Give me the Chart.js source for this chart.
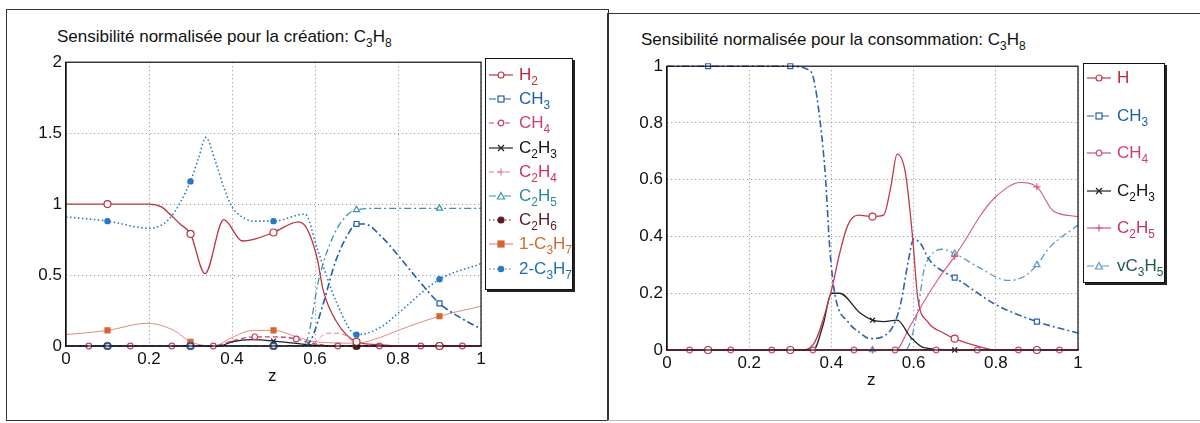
<!DOCTYPE html>
<html>
<head>
<meta charset="utf-8">
<script src="https://cdn.jsdelivr.net/npm/chart.js@4.4.0/dist/chart.umd.min.js"></script>
<style>
  body{margin:0;width:1200px;height:423px;background:#fff;position:relative;overflow:hidden;
       font-family:"Liberation Sans",Arial,sans-serif;color:#111;}
  .panel{position:absolute;box-sizing:border-box;}
  .title{position:absolute;font-size:17px;white-space:nowrap;line-height:20px;}
  sub{font-size:0.7em;vertical-align:-0.45em;line-height:0;}
  .zlab{position:absolute;font-size:17px;line-height:17px;}
  canvas{position:absolute;}
  .legend{position:absolute;box-sizing:border-box;border:1px solid #111;box-shadow:2px 2px 0 #222;background:#fff;}
  .legend .item{position:absolute;left:2px;height:22px;display:flex;align-items:center;white-space:nowrap;font-size:17px;}
  .legend svg{margin-right:5px;}
</style>
</head>
<body>

<div class="panel" style="left:6px;top:9px;width:603px;height:412px;border:1.5px solid #333;"></div>
<div class="panel" style="left:607px;top:13px;width:600px;height:408px;border-top:1.5px solid #333;border-left:1.5px solid #333;border-bottom:1px solid #bbb;"></div>

<div class="title" style="left:57px;top:27px;">Sensibilité normalisée pour la création: C<sub>3</sub>H<sub>8</sub></div>
<div class="title" style="left:641px;top:30px;">Sensibilité normalisée pour la consommation: C<sub>3</sub>H<sub>8</sub></div>

<canvas id="creation" width="490" height="346" style="left:16px;top:48px;"></canvas>
<canvas id="conso" width="490" height="346" style="left:617px;top:52px;"></canvas>

<div class="zlab" style="left:268px;top:367px;">z</div>
<div class="zlab" style="left:867px;top:371px;">z</div>

<div class="legend" id="legCreation" style="left:485px;top:58px;width:88px;height:232px;"></div>
<div class="legend" id="legConso" style="left:1083px;top:63px;width:82px;height:220px;"></div>

<script>
/* ===== Axis ticks ===== */
const zTicks = [0, 0.2, 0.4, 0.6, 0.8, 1];
const creationTicks = [0, 0.5, 1, 1.5, 2];
const consoTicks = [0, 0.2, 0.4, 0.6, 0.8, 1];

/* marker positions along z */
const marksMain = [0.1, 0.3, 0.5, 0.7, 0.9];
const marksOffset = [0.055, 0.155, 0.255, 0.355, 0.455, 0.555, 0.655, 0.755, 0.855, 0.955];

/* ===== Création (left) ===== */
const cH2Z   = [0, 0.1, 0.2, 0.23, 0.25, 0.275, 0.3, 0.335, 0.38, 0.425, 0.45, 0.5, 0.56, 0.58, 0.605, 0.62, 0.65, 0.7, 0.75, 0.8, 0.9, 1];
const cH2V   = [1, 1, 1, 0.98, 0.93, 0.86, 0.79, 0.51, 0.89, 0.74, 0.75, 0.80, 0.875, 0.83, 0.62, 0.39, 0.18, 0.03, 0.01, 0, 0, 0];

const cCH3Z  = [0, 0.1, 0.3, 0.5, 0.57, 0.59, 0.62, 0.65, 0.68, 0.7, 0.72, 0.757, 0.8, 0.836, 0.9, 0.95, 1];
const cCH3V  = [0, 0, 0, 0, 0, 0.04, 0.3, 0.6, 0.79, 0.86, 0.86, 0.78, 0.64, 0.51, 0.30, 0.2, 0.12];

const cCH4Z  = [0, 0.055, 0.155, 0.255, 0.355, 0.4, 0.455, 0.5, 0.555, 0.6, 0.655, 0.755, 0.855, 0.955, 1];
const cCH4V  = [0, 0, 0, 0, 0, 0.035, 0.065, 0.065, 0.05, 0.015, 0, 0, 0, 0, 0];

const cC2H3Z = [0, 0.1, 0.3, 0.37, 0.4, 0.45, 0.5, 0.55, 0.6, 0.65, 0.7, 0.9, 1];
const cC2H3V = [0, 0, 0, 0, 0.03, 0.045, 0.035, 0.02, 0.006, 0, 0, 0, 0];

const cC2H4Z = [0, 0.1, 0.3, 0.5, 0.58, 0.6, 0.63, 0.66, 0.7, 0.9, 1];
const cC2H4V = [0, 0, 0, 0, 0, 0.03, 0.09, 0.09, 0.02, 0, 0];

const cC2H5Z = [0, 0.1, 0.3, 0.5, 0.56, 0.58, 0.61, 0.645, 0.68, 0.7, 0.75, 0.8, 0.9, 1];
const cC2H5V = [0, 0, 0, 0, 0, 0.04, 0.48, 0.78, 0.93, 0.96, 0.97, 0.97, 0.97, 0.97];

const cC2H6Z = [0, 0.1, 0.3, 0.5, 0.7, 0.9, 1];
const cC2H6V = [0, 0, 0, 0, 0, 0, 0];

const c1C3H7Z = [0, 0.1, 0.195, 0.26, 0.3, 0.355, 0.4, 0.45, 0.5, 0.556, 0.6, 0.7, 0.757, 0.8, 0.9, 1];
const c1C3H7V = [0.08, 0.11, 0.16, 0.11, 0.03, 0, 0.06, 0.11, 0.11, 0.065, 0.03, 0.02, 0.06, 0.11, 0.21, 0.28];

const c2C3H7Z = [0, 0.1, 0.2, 0.25, 0.3, 0.32, 0.337, 0.36, 0.38, 0.4, 0.43, 0.45, 0.5, 0.576, 0.605, 0.653, 0.7, 0.757, 0.8, 0.9, 1];
const c2C3H7V = [0.91, 0.88, 0.83, 0.9, 1.16, 1.33, 1.47, 1.3, 1.12, 0.98, 0.9, 0.88, 0.88, 0.93, 0.69, 0.30, 0.08, 0.13, 0.23, 0.47, 0.58];

/* ===== Consommation (right) ===== */
const kHZ    = [0, 0.1, 0.3, 0.325, 0.356, 0.4, 0.42, 0.44, 0.465, 0.5, 0.527, 0.544, 0.56, 0.58, 0.598, 0.61, 0.634, 0.673, 0.7, 0.76, 0.8, 0.9, 1];
const kHV    = [0, 0, 0, 0, 0.02, 0.21, 0.34, 0.44, 0.475, 0.47, 0.475, 0.57, 0.69, 0.625, 0.39, 0.185, 0.10, 0.06, 0.04, 0.012, 0, 0, 0];

const kCH3Z  = [0, 0.1, 0.3, 0.34, 0.356, 0.373, 0.385, 0.397, 0.41, 0.44, 0.47, 0.495, 0.544, 0.568, 0.588, 0.6, 0.617, 0.637, 0.68, 0.7, 0.8, 0.9, 1];
const kCH3V  = [1, 1, 1, 0.99, 0.96, 0.80, 0.62, 0.34, 0.185, 0.10, 0.06, 0.04, 0.07, 0.16, 0.32, 0.39, 0.375, 0.32, 0.27, 0.255, 0.16, 0.10, 0.06];

const kCH4Z  = [0, 0.055, 0.155, 0.255, 0.355, 0.455, 0.555, 0.655, 0.755, 0.855, 0.955, 1];
const kCH4V  = [0, 0, 0, 0, 0, 0, 0, 0, 0, 0, 0, 0];

const kC2H3Z = [0, 0.1, 0.3, 0.356, 0.38, 0.4, 0.42, 0.47, 0.5, 0.527, 0.56, 0.593, 0.625, 0.7, 0.9, 1];
const kC2H3V = [0, 0, 0, 0, 0.09, 0.20, 0.20, 0.13, 0.105, 0.10, 0.105, 0.045, 0.008, 0, 0, 0];

const kC2H5Z = [0, 0.1, 0.3, 0.5, 0.556, 0.59, 0.625, 0.66, 0.7, 0.727, 0.763, 0.8, 0.86, 0.9, 0.94, 1];
const kC2H5V = [0, 0, 0, 0, 0, 0.08, 0.17, 0.25, 0.33, 0.39, 0.475, 0.54, 0.59, 0.575, 0.49, 0.47];

const kVC3H5Z = [0, 0.1, 0.3, 0.5, 0.58, 0.61, 0.625, 0.64, 0.67, 0.7, 0.76, 0.83, 0.87, 0.9, 0.93, 1];
const kVC3H5V = [0, 0, 0, 0, 0, 0.14, 0.28, 0.33, 0.355, 0.34, 0.29, 0.245, 0.26, 0.30, 0.36, 0.44];

/* ===== Styles ===== */
const DASHDOT = [7, 3, 2, 3];
const DOT = [1.5, 2.5];
const GRIDDOT = [1, 3];
const DASH = [5, 3];

const stH2    = {color:"#b8343f", marker:"circle"};
const stCH3   = {color:"#1f5ea8", marker:"rect", dash:DASHDOT, width:1.6};
const stCH4   = {color:"#c8406c", marker:"circle", dash:DASH, size:2.8};
const stC2H3  = {color:"#222222", marker:"crossRot"};
const stC2H4  = {color:"#e07a9a", marker:"cross", dash:DASH, width:1};
const stC2H5  = {color:"#3b93a6", marker:"triangle", dash:DASHDOT};
const stC2H6  = {color:"#5c1c26", marker:"circle", filled:true, dash:DOT};
const st1C3H7 = {color:"#e08a80", mColor:"#d8642e", marker:"rect", filled:true, width:1};
const st2C3H7 = {color:"#2a78c0", marker:"circle", filled:true, dash:DOT, size:2.6, width:1.6};

const stH     = {color:"#c0384e", marker:"circle"};
const stKCH3  = {color:"#2a62ac", marker:"rect", dash:DASHDOT, width:1.6};
const stKCH4  = {color:"#d0507a", marker:"circle", size:2.8};
const stKC2H3 = {color:"#222222", marker:"crossRot"};
const stKC2H5 = {color:"#d4587e", marker:"cross", width:1.1};
const stVC3H5 = {color:"#5a98c4", marker:"triangle", dash:DASHDOT};

/* ===== Helpers ===== */
function ds(label, zs, vs, st, marks){
  return {
    label,
    data: zs.map((z, i) => ({x: z, y: vs[i]})),
    borderColor: st.color,
    borderWidth: st.width || 1.3,
    borderDash: st.dash || [],
    pointStyle: st.marker,
    pointBorderColor: st.mColor || st.color,
    pointBackgroundColor: st.filled ? (st.mColor || st.color) : "#fff",
    pointBorderWidth: 1.2,
    pointRadius: c => marks.includes(c.raw.x) ? (st.size || 3.5) : 0,
    pointHoverRadius: 0,
    cubicInterpolationMode: "monotone",
    fill: false,
    clip: false
  };
}

const framePlugin = {
  id: "frame",
  afterDraw(chart){
    const {ctx, chartArea:a} = chart;
    ctx.save();
    ctx.strokeStyle = "#111";
    ctx.lineWidth = 1.2;
    ctx.strokeRect(a.left, a.top, a.right - a.left, a.bottom - a.top);
    ctx.restore();
  }
};

const fmt = v => String(+Number(v).toFixed(2));

function makeChart(id, datasets, yTicks, padRight){
  const fontTick = {family:"Liberation Sans, Arial, sans-serif", size:17};
  new Chart(document.getElementById(id), {
    type: "line",
    data: {datasets},
    plugins: [framePlugin],
    options: {
      responsive:false, animation:false,
      layout:{padding:{top:10, right:padRight, left:0, bottom:0}},
      plugins:{legend:{display:false}, tooltip:{enabled:false}},
      scales:{
        x:{
          type:"linear", min:zTicks[0], max:zTicks[zTicks.length-1],
          afterBuildTicks: s => { s.ticks = zTicks.map(v => ({value:v})); },
          afterFit: s => { s.height = 48; },
          ticks:{font:fontTick, color:"#111", padding:3, maxRotation:0, callback:fmt},
          grid:{color:"#8a8a8a", drawTicks:false, lineWidth:1},
          border:{display:true, color:"#111", width:1.2, dash:GRIDDOT}
        },
        y:{
          type:"linear", min:yTicks[0], max:yTicks[yTicks.length-1],
          afterBuildTicks: s => { s.ticks = yTicks.map(v => ({value:v})); },
          afterFit: s => { s.width = 50; },
          ticks:{font:fontTick, color:"#111", padding:4, callback:fmt},
          grid:{color:"#8a8a8a", drawTicks:false, lineWidth:1},
          border:{display:true, color:"#111", width:1.2, dash:GRIDDOT}
        }
      }
    }
  });
}

function markerSvg(st){
  const c = st.mColor || st.color, f = st.filled ? c : "#fff";
  const x = 13, y = 11;
  switch(st.marker){
    case "rect": return `<rect x="${x-3}" y="${y-3}" width="6" height="6" fill="${f}" stroke="${c}" stroke-width="1.2"/>`;
    case "cross": return `<path d="M${x-3.5} ${y}H${x+3.5}M${x} ${y-3.5}V${y+3.5}" stroke="${c}" stroke-width="1.2"/>`;
    case "crossRot": return `<path d="M${x-3} ${y-3}L${x+3} ${y+3}M${x+3} ${y-3}L${x-3} ${y+3}" stroke="${c}" stroke-width="1.2"/>`;
    case "triangle": return `<path d="M${x} ${y-3.5}L${x+3.5} ${y+3}L${x-3.5} ${y+3}Z" fill="${f}" stroke="${c}" stroke-width="1.2"/>`;
    default: return `<circle cx="${x}" cy="${y}" r="${st.size || 3}" fill="${f}" stroke="${c}" stroke-width="1.2"/>`;
  }
}

function buildLegend(id, items, first, step){
  const box = document.getElementById(id);
  items.forEach(([label, st, textColor], i) => {
    const el = document.createElement("div");
    el.className = "item";
    el.style.top = (first + i*step - 11) + "px";
    el.style.color = textColor;
    const dash = (st.dash || []).join(",");
    el.innerHTML = `<svg width="26" height="22"><line x1="1" y1="11" x2="25" y2="11" stroke="${st.color}" stroke-width="1.2" ${dash ? `stroke-dasharray="${dash}"` : ""}/>${markerSvg(st)}</svg><span>${label}</span>`;
    box.appendChild(el);
  });
}

/* ===== Build ===== */
makeChart("creation", [
  ds("H2", cH2Z, cH2V, stH2, marksMain),
  ds("CH3", cCH3Z, cCH3V, stCH3, marksMain),
  ds("CH4", cCH4Z, cCH4V, stCH4, marksOffset),
  ds("C2H3", cC2H3Z, cC2H3V, stC2H3, marksMain),
  ds("C2H4", cC2H4Z, cC2H4V, stC2H4, marksMain),
  ds("C2H5", cC2H5Z, cC2H5V, stC2H5, marksMain),
  ds("C2H6", cC2H6Z, cC2H6V, stC2H6, marksMain),
  ds("1-C3H7", c1C3H7Z, c1C3H7V, st1C3H7, marksMain),
  ds("2-C3H7", c2C3H7Z, c2C3H7V, st2C3H7, marksMain)
], creationTicks, 25);

makeChart("conso", [
  ds("H", kHZ, kHV, stH, marksMain),
  ds("CH3", kCH3Z, kCH3V, stKCH3, marksMain),
  ds("CH4", kCH4Z, kCH4V, stKCH4, marksOffset),
  ds("C2H3", kC2H3Z, kC2H3V, stKC2H3, marksMain),
  ds("C2H5", kC2H5Z, kC2H5V, stKC2H5, marksMain),
  ds("vC3H5", kVC3H5Z, kVC3H5V, stVC3H5, marksMain)
], consoTicks, 29);

buildLegend("legCreation", [
  ["H<sub>2</sub>", stH2, "#c02838"],
  ["CH<sub>3</sub>", stCH3, "#1f5ea8"],
  ["CH<sub>4</sub>", stCH4, "#d0406a"],
  ["C<sub>2</sub>H<sub>3</sub>", stC2H3, "#111"],
  ["C<sub>2</sub>H<sub>4</sub>", stC2H4, "#d0306a"],
  ["C<sub>2</sub>H<sub>5</sub>", stC2H5, "#2a8a9a"],
  ["C<sub>2</sub>H<sub>6</sub>", stC2H6, "#5a1a20"],
  ["1-C<sub>3</sub>H<sub>7</sub>", st1C3H7, "#d06a30"],
  ["2-C<sub>3</sub>H<sub>7</sub>", st2C3H7, "#2070b8"]
], 16, 24.2);

buildLegend("legConso", [
  ["H", stH, "#c02838"],
  ["CH<sub>3</sub>", stKCH3, "#1f5ea8"],
  ["CH<sub>4</sub>", stKCH4, "#d0406a"],
  ["C<sub>2</sub>H<sub>3</sub>", stKC2H3, "#111"],
  ["C<sub>2</sub>H<sub>5</sub>", stKC2H5, "#c8306a"],
  ["vC<sub>3</sub>H<sub>5</sub>", stVC3H5, "#1a5a50"]
], 14, 37.5);
</script>
</body>
</html>
